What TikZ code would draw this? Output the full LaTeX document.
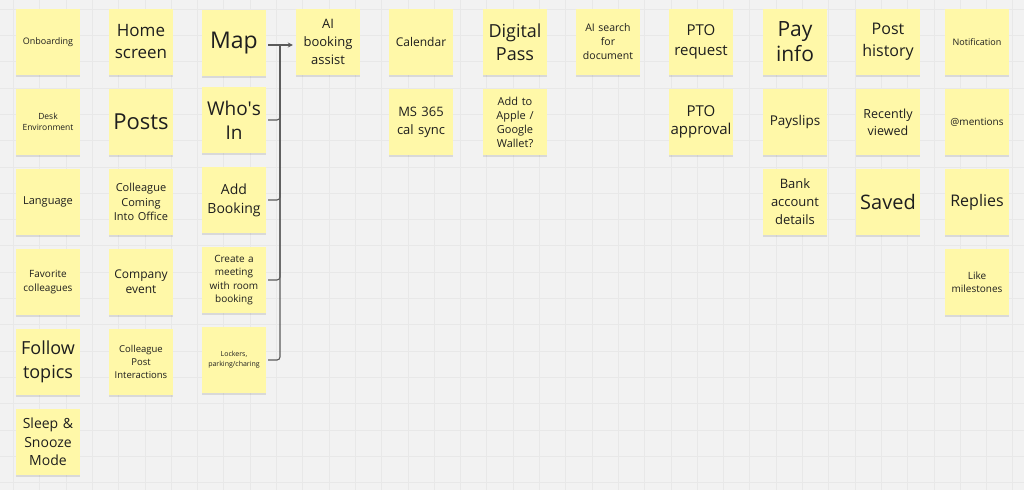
\documentclass[tikz,border=0pt]{standalone}
\usepackage{fontspec}
\setmainfont{Open Sans}
\usetikzlibrary{arrows.meta,calc}
\definecolor{bgc}{HTML}{F2F2F2}
\definecolor{gridc}{HTML}{E8E8E8}
\definecolor{notec}{HTML}{FFF8A8}
\definecolor{textc}{HTML}{1E1E1E}
\definecolor{linec}{HTML}{5A5A5A}
\tikzset{
  note/.style={draw=none, fill=notec, minimum width=64pt, minimum height=66pt,
    text width=62pt, inner sep=0pt, align=center, text=textc,
    preaction={fill=black, opacity=0.10, transform canvas={yshift=-1.6pt}}},
  fz/.style 2 args={font=\fontsize{#1}{#2}\selectfont},
  gridline/.style={draw=gridc, line width=0.6pt},
  conn/.style={draw=linec, line width=1.1pt, rounded corners=3pt},
  connarrow/.style={conn, -{Stealth[length=5pt,width=5pt]}}
}
\begin{document}
\begin{tikzpicture}[x=1pt,y=-1pt]
\useasboundingbox (0,0) rectangle (1024,490);
\fill[bgc] (0,0) rectangle (1024,490);
\foreach \i in {0,...,38} \draw[gridline] ({13.3+26.3*\i},0) -- ({13.3+26.3*\i},490);
\foreach \j in {0,...,18} \draw[gridline] (0,{9+26.3*\j}) -- (1024,{9+26.3*\j});

% column 1
\node[note, fz={9}{11}] (on) at (48,42) {Onboarding};
\node[note, fz={8.5}{11}] (desk) at (48,122) {Desk\\Environment};
\node[note, fz={11}{14}] (lang) at (48,202) {Language};
\node[note, fz={10}{14}] (fav) at (48,282) {Favorite\\colleagues};
\node[note, fz={18}{24}] (fol) at (48,362) {Follow\\topics};
\node[note, fz={14}{18.5}] (sleep) at (48,442) {Sleep \&\\Snooze\\Mode};
% column 2
\node[note, fz={17}{22}] (home) at (141,42) {Home\\screen};
\node[note, fz={22}{26}] (posts) at (141,122) {Posts};
\node[note, fz={11}{14.5}] (coming) at (141,202) {Colleague\\Coming\\Into Office};
\node[note, fz={12}{15}] (event) at (141,282) {Company\\event};
\node[note, fz={9.5}{13}] (inter) at (141,362) {Colleague\\Post\\Interactions};
% column 3
\node[note, fz={23}{28}] (map) at (234,43) {Map};
\node[note, fz={19}{24}] (who) at (234,120) {Who\textquotesingle s\\In};
\node[note, fz={14}{19}] (add) at (234,200) {Add\\Booking};
\node[note, fz={10}{13.5}] (meet) at (234,280) {Create a\\meeting\\with room\\booking};
\node[note, fz={7}{10}] (lock) at (234,360) {Lockers,\\parking/charing};
% column 4
\node[note, fz={13}{18}] (ai) at (328,42) {AI\\booking\\assist};
% column 5
\node[note, fz={12}{15}] (cal) at (421,42) {Calendar};
\node[note, fz={13}{18}] (ms) at (421,122) {MS 365\\cal sync};
% column 6
\node[note, fz={18}{23}] (pass) at (515,42) {Digital\\Pass};
\node[note, fz={11}{14}] (wallet) at (515,122) {Add to\\Apple /\\Google\\Wallet?};
% column 7
\node[note, fz={10.5}{14}] (search) at (608,42) {AI search\\for\\document};
% column 8
\node[note, fz={15}{20}] (pto) at (701,42) {PTO\\request};
\node[note, fz={15}{18}] (appr) at (701,122) {PTO\\approval};
% column 9
\node[note, fz={21}{25}] (pay) at (795,42) {Pay\\info};
\node[note, fz={13.5}{16}] (slips) at (795,122) {Payslips};
\node[note, fz={13}{18}] (bank) at (795,202) {Bank\\account\\details};
% column 10
\node[note, fz={16}{22}] (hist) at (888,42) {Post\\history};
\node[note, fz={12.5}{17}] (recent) at (888,122) {Recently\\viewed};
\node[note, fz={20}{24}] (saved) at (888,202) {Saved};
% column 11
\node[note, fz={9}{11}] (notif) at (977,42) {Notification};
\node[note, fz={10}{12}] (ment) at (977,122) {@mentions};
\node[note, fz={16}{20}] (repl) at (977,202) {Replies};
\node[note, fz={10}{13.5}] (like) at (977,282) {Like\\milestones};

% connectors
\coordinate (j) at (280,45);
\draw[connarrow] ([xshift=2pt]map.east |- j) -- ([xshift=-3pt]ai.west |- j);
\draw[conn] ([xshift=2pt]who.east) -| (j);
\draw[conn] ([xshift=2pt]add.east) -| (j);
\draw[conn] ([xshift=2pt]meet.east) -| (j);
\draw[conn] ([xshift=2pt]lock.east) -| (j);
\end{tikzpicture}
\end{document}
